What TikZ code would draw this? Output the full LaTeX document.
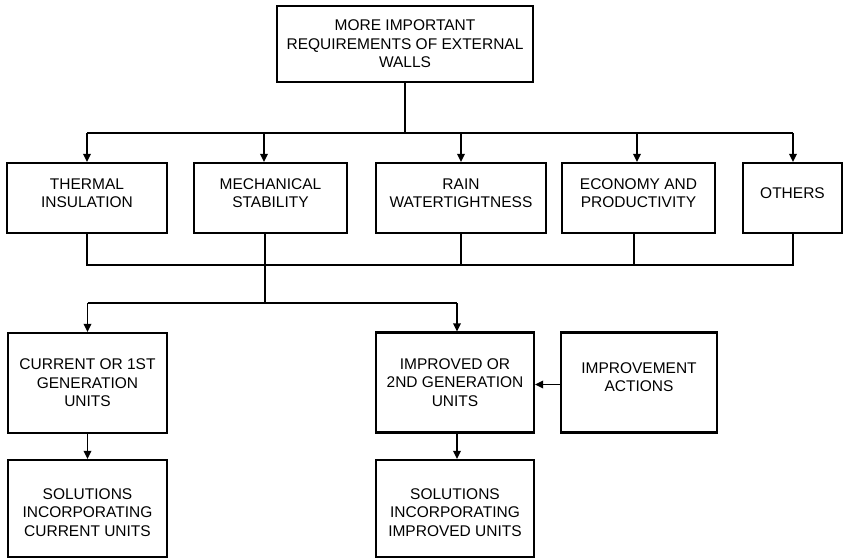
\documentclass[tikz,border=0pt]{standalone}
\usepackage{fontspec}
\setmainfont{Liberation Sans}
\usetikzlibrary{arrows.meta}
\begin{document}
\begin{tikzpicture}[x=1pt,y=-1pt,
  box/.style={draw,line width=2.2pt,rectangle,align=center,inner sep=0pt,
    font=\fontsize{15.5}{18.5}\selectfont},
  conn/.style={line width=1.7pt},
  arr/.style={conn,-{Triangle[length=8pt,width=7.5pt]}}]
\useasboundingbox (0,0) rectangle (847,560);
\node[box,minimum width=256pt,minimum height=76pt] (top) at (405,44) {MORE IMPORTANT\\REQUIREMENTS OF EXTERNAL\\WALLS};
\node[box,minimum width=160pt,minimum height=70pt] (therm) at (87,198) {THERMAL\\INSULATION\\[-8.5pt]};
\node[box,minimum width=153pt,minimum height=70pt] (mech) at (270.5,198) {MECHANICAL\\STABILITY\\[-8.5pt]};
\node[box,minimum width=170pt,minimum height=70pt] (rain) at (461,198) {RAIN\\WATERTIGHTNESS\\[-8.5pt]};
\node[box,minimum width=153pt,minimum height=70pt] (econ) at (638.5,198) {ECONOMY AND\\PRODUCTIVITY\\[-8.5pt]};
\node[box,minimum width=99pt,minimum height=70pt] (others) at (792.5,198) {OTHERS\\[-8.5pt]};
\node[box,minimum width=159pt,minimum height=100pt] (cur) at (87.5,383) {CURRENT OR 1ST\\GENERATION\\UNITS};
\node[box,minimum width=159pt,minimum height=97pt] (solc) at (87.5,508.5) {\strut\\[-12.5pt]SOLUTIONS\\INCORPORATING\\CURRENT UNITS};
\node[box,minimum width=158pt,minimum height=100pt] (imp) at (455,382.5) {IMPROVED OR\\2ND GENERATION\\UNITS};
\node[box,minimum width=156pt,minimum height=100pt] (act) at (639,382.5) {IMPROVEMENT\\ACTIONS\\[-7.5pt]};
\node[box,minimum width=158pt,minimum height=97pt] (soli) at (455,508.5) {\strut\\[-12.5pt]SOLUTIONS\\INCORPORATING\\IMPROVED UNITS};
\coordinate (b1) at (405,133);
\coordinate (b2) at (265,265);
\coordinate (b3) at (265,303);
% top bus
\draw[conn] (top.south -| b1) -- (b1);
\draw[conn] (therm.north |- b1) -- (others.north |- b1);
\draw[arr] (therm.north |- b1) -- (therm.north);
\draw[arr] ([xshift=-6.5pt]mech.north |- b1) -- ([xshift=-6.5pt]mech.north);
\draw[arr] (rain.north |- b1) -- (rain.north);
\draw[arr] ([xshift=-1.5pt]econ.north |- b1) -- ([xshift=-1.5pt]econ.north);
\draw[arr] ([xshift=0.5pt]others.north |- b1) -- ([xshift=0.5pt]others.north);
% lower bus
\draw[conn] (therm.south) -- (therm.south |- b2) -- ([xshift=0.5pt]others.south |- b2) -- ([xshift=0.5pt]others.south);
\draw[conn] ([xshift=-5.5pt]mech.south) -- (b2);
\draw[conn] (rain.south) -- (rain.south |- b2);
\draw[conn] ([xshift=-4.5pt]econ.south) -- ([xshift=-4.5pt]econ.south |- b2);
\draw[conn] (b2) -- (b3);
\draw[conn] (cur.north |- b3) -- ([xshift=2pt]imp.north |- b3);
\draw[arr] (cur.north |- b3) -- (cur.north);
\draw[arr] ([xshift=2pt]imp.north |- b3) -- ([xshift=2pt]imp.north);
\draw[arr] (cur.south) -- (solc.north);
\draw[arr] ([xshift=2pt]imp.south) -- ([xshift=2pt]soli.north);
\draw[arr] ([yshift=-2pt]act.west) -- ([yshift=-2pt]imp.east);
\end{tikzpicture}
\end{document}
